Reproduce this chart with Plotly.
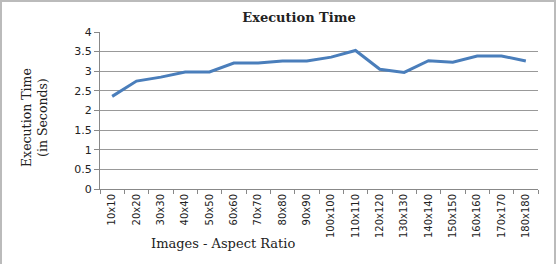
import plotly.graph_objects as go

categories = ["10x10", "20x20", "30x30", "40x40", "50x50", "60x60", "70x70", "80x80", "90x90",
              "100x100", "110x110", "120x120", "130x130", "140x140", "150x150", "160x160",
              "170x170", "180x180"]
exec_time = [2.36, 2.75, 2.85, 2.98, 2.98, 3.21, 3.21, 3.26, 3.26,
             3.36, 3.53, 3.05, 2.97, 3.27, 3.23, 3.39, 3.39, 3.26]

W, H = 559, 264
L, R, T, B = 100, 21, 32, 75
pw, ph = W - L - R, H - T - B

def px(x):
    return (x - L) / pw

def py(y):
    return (H - B - y) / ph

SERIF = "DejaVu Serif"

fig = go.Figure()
fig.add_trace(go.Scatter(x=categories, y=exec_time, mode="lines",
                         line=dict(color="#4A7EBB", width=3)))

fig.update_layout(
    width=W, height=H, margin=dict(l=L, r=R, t=T, b=B),
    paper_bgcolor="white", plot_bgcolor="white", showlegend=False,
    title=dict(text="<b>Execution Time</b>", xref="container", x=299 / W, xanchor="center",
               yref="container", y=1 - 17 / H, yanchor="middle",
               font=dict(family=SERIF, size=13, color="#222")),
    xaxis=dict(type="category", showgrid=False, showline=True, linecolor="#888", linewidth=1,
               ticks="outside", tickson="boundaries", ticklen=4, tickcolor="#888",
               tickangle=-90, tickfont=dict(family="DejaVu Sans", size=10, color="#222"),
               range=[-0.5, len(categories) - 0.5]),
    yaxis=dict(range=[0, 4], dtick=0.5, showgrid=True, gridcolor="#999", gridwidth=1,
               showline=True, linecolor="#888", linewidth=1, ticks="outside", ticklen=5,
               tickcolor="#888", zeroline=False,
               tickfont=dict(family="DejaVu Sans", size=11, color="#222")),
    annotations=[
        dict(text="Execution Time<br>(in Seconds)", xref="paper", yref="paper",
             x=px(34), y=py(118), xanchor="center", yanchor="middle", textangle=-90,
             showarrow=False, font=dict(family=SERIF, size=12.5, color="#222")),
        dict(text="Images - Aspect Ratio", xref="paper", yref="paper",
             x=px(223), y=py(243), xanchor="center", yanchor="middle",
             showarrow=False, font=dict(family=SERIF, size=13, color="#222")),
    ],
    shapes=[dict(type="rect", xref="paper", yref="paper",
                 x0=px(1), x1=px(555), y0=py(1), y1=py(300),
                 line=dict(color="#BBBBBB", width=2), fillcolor="rgba(0,0,0,0)", layer="below")],
)

fig.write_html("out.html")
